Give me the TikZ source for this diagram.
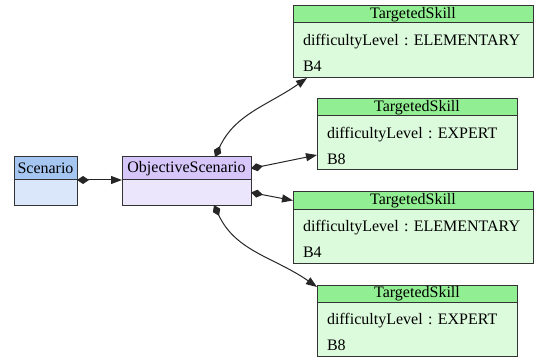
\documentclass[tikz,border=0pt]{standalone}
\usepackage{fontspec}
\setmainfont{Liberation Serif}
\usetikzlibrary{positioning,arrows.meta}
\definecolor{scnhd}{HTML}{A6C6F2}
\definecolor{scnbd}{HTML}{DAE7FB}
\definecolor{objhd}{HTML}{D6C6FA}
\definecolor{objbd}{HTML}{ECE6FD}
\definecolor{skhd}{HTML}{92EE92}
\definecolor{skbd}{HTML}{DCFADC}
\frenchspacing
\hyphenpenalty=10000
\tikzset{
  hdr/.style={draw=black!80, line width=1pt, outer sep=0pt, inner sep=0pt,
    minimum height=17pt, font=\fontsize{16}{18}\selectfont},
  bdy/.style={draw=black!80, line width=1pt, outer sep=0pt, inner sep=0pt},
  skillbody/.style={bdy, fill=skbd, inner xsep=10pt, align=left, text height=17pt,
    minimum height=54pt, font=\fontsize{16}{26}\selectfont},
  assoc/.style={draw=black!85, line width=1pt,
    {Diamond[length=12pt,width=8pt]}-{Triangle[length=11pt,width=8pt]}}
}
\begin{document}
\begin{tikzpicture}[x=1pt,y=-1pt]
\useasboundingbox (0,0) rectangle (535,358);
% the two scenario classes
\node[hdr, anchor=north west, fill=scnhd, minimum width=63pt, minimum height=23pt] (sch) at (14,157) {Scenario};
\node[bdy, below=0pt of sch, fill=scnbd, minimum width=63pt, minimum height=25pt] (scb) {};
\node[hdr, anchor=north west, fill=objhd, minimum width=129pt, minimum height=23pt] (osh) at (122,157) {ObjectiveScenario};
\node[bdy, below=0pt of osh, fill=objbd, minimum width=129pt, minimum height=25pt] (osb) {};
% targeted skills
\node[hdr, anchor=north west, fill=skhd, minimum width=240pt] (s1h) at (293,6) {TargetedSkill};
\node[skillbody, below=0pt of s1h, text width=220pt, minimum height=55pt] (s1b) {difficultyLevel : ELEMENTARY\\B4};
\node[hdr, anchor=north west, fill=skhd, minimum width=200pt] (s2h) at (317,99) {TargetedSkill};
\node[skillbody, below=0pt of s2h, text width=180pt] (s2b) {difficultyLevel : EXPERT\\B8};
\node[hdr, anchor=north west, fill=skhd, minimum width=240pt] (s3h) at (293,192) {TargetedSkill};
\node[skillbody, below=0pt of s3h, text width=220pt] (s3b) {difficultyLevel : ELEMENTARY\\B4};
\node[hdr, anchor=north west, fill=skhd, minimum width=200pt] (s4h) at (317,285) {TargetedSkill};
\node[skillbody, below=0pt of s4h, text width=180pt] (s4b) {difficultyLevel : EXPERT\\B8};
% associations
\draw[assoc] (sch.south east) -- (osh.south west);
\draw[assoc] ([xshift=-36pt]osh.north east) to[out=65,in=-145] ([xshift=14pt]s1b.south west);
\draw[assoc] (osh.east) -- ([yshift=-12pt]s2b.west);
\draw[assoc] (osb.east) -- (s3h.west);
\draw[assoc] ([xshift=-37pt]osb.south east) to[out=-65,in=145] ([yshift=-2pt]s4h.north west);
\end{tikzpicture}
\end{document}
